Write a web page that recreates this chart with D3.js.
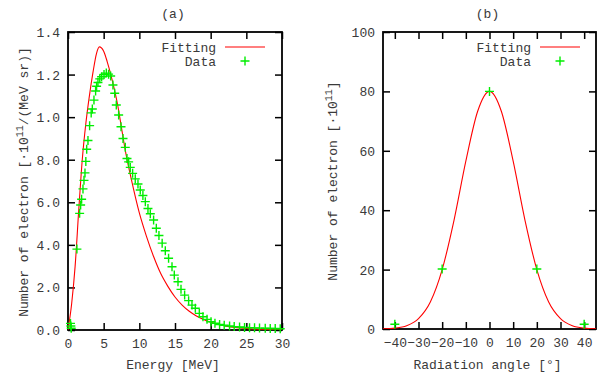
<!DOCTYPE html>
<html>
<head>
<meta charset="utf-8">
<script src="https://cdn.jsdelivr.net/npm/d3@7"></script>
<style>
  body { margin: 0; background: #fff; }
  svg text { font-family: "Liberation Mono", "DejaVu Sans Mono", monospace; font-size: 13px; fill: #3a3a3a; }
</style>
</head>
<body>
<svg id="chart" width="601" height="374"></svg>
<script>
// panel (a): energy spectrum, measured points
const specEnergy = [0.35, 0.4, 0.45, 1.25, 1.63, 1.77, 1.91, 2.1, 2.24, 2.38, 2.5, 2.62, 2.8, 3.03, 3.25, 3.41,
  3.64, 3.87, 4.01, 4.2, 4.45, 4.71, 5.05, 5.37, 5.69, 5.98, 6.3, 6.55, 6.77, 7.1, 7.43, 7.71, 8.03, 8.27,
  8.5, 8.73, 9.06, 9.43, 9.81, 10.13, 10.5, 10.84, 11.21, 11.54, 12.0, 12.38, 12.75, 13.2, 13.64, 14.1,
  14.58, 14.9, 15.42, 15.84, 16.35, 16.91, 17.38, 17.85, 18.41, 18.92, 19.49, 20.05, 20.6, 21.25, 21.9,
  22.65, 23.3, 24.05, 24.75, 25.45, 26.15, 26.85, 27.65, 28.35, 29.05, 29.75];
const specCount = [0.031, 0.019, 0.008, 0.38, 0.548, 0.587, 0.614, 0.663, 0.703, 0.738, 0.792, 0.849, 0.89, 0.96, 1.02, 1.038,
  1.08, 1.123, 1.145, 1.163, 1.18, 1.19, 1.2, 1.207, 1.202, 1.193, 1.151, 1.112, 1.057, 1.01, 0.955, 0.9, 0.858, 0.806,
  0.79, 0.764, 0.736, 0.71, 0.686, 0.658, 0.632, 0.603, 0.571, 0.546, 0.517, 0.478, 0.444, 0.408, 0.372, 0.337,
  0.297, 0.258, 0.227, 0.191, 0.164, 0.138, 0.117, 0.102, 0.078, 0.062, 0.05, 0.039, 0.032, 0.026, 0.022,
  0.019, 0.016, 0.014, 0.012, 0.011, 0.01, 0.009, 0.008, 0.007, 0.007, 0.006];

// panel (a): fitting curve
const fitEnergy = [0, 0.5, 1.0, 1.5, 2.0, 2.5, 3.0, 3.5, 4.0, 4.4, 5.0, 5.5, 6.0, 6.5, 7.0, 7.5, 8.0, 9.0, 10.0,
  11.0, 12.0, 13.0, 14.0, 15.0, 16.0, 17.0, 18.0, 19.0, 20.0, 22.0, 24.0, 26.0, 28.0, 30.0];
const fitCount = [0, 0.12, 0.30, 0.56, 0.80, 0.97, 1.10, 1.21, 1.30, 1.33, 1.31, 1.26, 1.20, 1.13, 1.05, 0.95, 0.85, 0.69, 0.55,
  0.44, 0.345, 0.265, 0.205, 0.155, 0.117, 0.088, 0.066, 0.049, 0.036, 0.019, 0.01, 0.005, 0.0025, 0.001];

const specYTicks = [0, 0.2, 0.4, 0.6, 0.8, 1.0, 1.2, 1.4];
const specYLabels = ['0.0', '2.0', '4.0', '6.0', '8.0', '1.0', '1.2', '1.4'];
const specXTicks = [0, 5, 10, 15, 20, 25, 30];

// panel (b): angular distribution
const angle = [-40, -20, 0, 20, 40];
const angleCount = [1.6, 20.2, 80, 20.2, 1.6];
const fitAngle = [-45, -40, -35, -30, -25, -20, -15, -10, -5, 0, 5, 10, 15, 20, 25, 30, 35, 40, 45];
const fitAngleCount = [0.07, 0.3, 1.1, 3.5, 9.1, 20, 36.6, 56.5, 73.3, 80, 73.3, 56.5, 36.6, 20, 9.1, 3.5, 1.1, 0.3, 0.07];
const angleXTicks = [-40, -30, -20, -10, 0, 10, 20, 30, 40];
const angleYTicks = [0, 20, 40, 60, 80, 100];

const svg = d3.select('#chart');

function drawPanel(cfg) {
  const x = d3.scaleLinear().domain(cfg.xDomain).range([cfg.left, cfg.right]);
  const y = d3.scaleLinear().domain(cfg.yDomain).range([cfg.bottom, cfg.top]);
  const g = svg.append('g');
  const tick = 7;

  g.append('defs').append('clipPath').attr('id', cfg.id + '-clip')
    .append('rect').attr('x', cfg.left).attr('y', cfg.top)
    .attr('width', cfg.right - cfg.left).attr('height', cfg.bottom - cfg.top);

  // inward ticks on all four sides
  const axB = d3.axisBottom(x).tickValues(cfg.xTicks).tickSizeInner(-tick).tickSizeOuter(0).tickFormat(d3.format('d'));
  const axT = d3.axisTop(x).tickValues(cfg.xTicks).tickSizeInner(-tick).tickSizeOuter(0).tickFormat('');
  const axL = d3.axisLeft(y).tickValues(cfg.yTicks).tickSizeInner(-tick).tickSizeOuter(0)
    .tickFormat((d, i) => cfg.yLabels[i]);
  const axR = d3.axisRight(y).tickValues(cfg.yTicks).tickSizeInner(-tick).tickSizeOuter(0).tickFormat('');

  const gb = g.append('g').attr('transform', 'translate(0,' + cfg.bottom + ')').call(axB);
  g.append('g').attr('transform', 'translate(0,' + cfg.top + ')').call(axT);
  const gl = g.append('g').attr('transform', 'translate(' + cfg.left + ',0)').call(axL);
  g.append('g').attr('transform', 'translate(' + cfg.right + ',0)').call(axR);

  g.selectAll('.domain').remove();
  g.selectAll('.tick line').attr('stroke', '#000').attr('stroke-width', 1.5);
  g.selectAll('.tick text').attr('font-size', null).attr('font-family', null).attr('fill', null);
  gb.selectAll('.tick text').attr('y', 9).attr('dy', '0.71em');
  gl.selectAll('.tick text').attr('x', -8).attr('dy', '0.35em');

  g.append('rect')
    .attr('x', cfg.left).attr('y', cfg.top)
    .attr('width', cfg.right - cfg.left).attr('height', cfg.bottom - cfg.top)
    .attr('fill', 'none').attr('stroke', '#000').attr('stroke-width', 1.8);

  // fitting curve
  const line = d3.line().x(d => x(d[0])).y(d => y(d[1])).curve(d3.curveMonotoneX);
  g.append('path')
    .datum(d3.zip(cfg.fitX, cfg.fitY))
    .attr('clip-path', 'url(#' + cfg.id + '-clip)')
    .attr('d', line)
    .attr('fill', 'none').attr('stroke', '#ff0000').attr('stroke-width', 1.1);

  // data crosses
  const s = 4.5;
  const cross = 'M' + (-s) + ',0H' + s + 'M0,' + (-s) + 'V' + s;
  g.append('g').selectAll('path')
    .data(d3.zip(cfg.dataX, cfg.dataY))
    .join('path')
    .attr('transform', d => 'translate(' + x(d[0]) + ',' + y(d[1]) + ')')
    .attr('d', cross)
    .attr('stroke', '#00ee00').attr('stroke-width', 1.4).attr('fill', 'none');

  // title
  g.append('text').attr('x', (cfg.left + cfg.right) / 2 - 2).attr('y', 13).attr('dy', '0.35em')
    .attr('text-anchor', 'middle').text(cfg.title);

  // x label
  g.append('text').attr('x', (cfg.left + cfg.right) / 2 - 2).attr('y', 364).attr('dy', '0.35em')
    .attr('text-anchor', 'middle').text(cfg.xLabel);

  // y label with superscript
  const yl = g.append('text')
    .attr('transform', 'translate(' + cfg.yLabelX + ',' + cfg.yLabelY + ') rotate(-90)')
    .attr('text-anchor', 'middle').attr('dy', '0.35em');
  yl.append('tspan').text('Number of electron [\u00b710');
  yl.append('tspan').attr('dy', -5).style('font-size', '10px').text('11');
  yl.append('tspan').attr('dy', 5).text(cfg.yLabelTail);

  // legend
  const lx = cfg.legendX;
  g.append('text').attr('x', lx).attr('y', 47).attr('dy', '0.35em').attr('text-anchor', 'end').text('Fitting');
  g.append('text').attr('x', lx).attr('y', 61).attr('dy', '0.35em').attr('text-anchor', 'end').text('Data');
  g.append('line').attr('x1', lx + 9).attr('x2', lx + 49).attr('y1', 47).attr('y2', 47)
    .attr('stroke', '#ff0000').attr('stroke-width', 1.1);
  g.append('path').attr('transform', 'translate(' + (lx + 29) + ',61)').attr('d', cross)
    .attr('stroke', '#00ee00').attr('stroke-width', 1.4).attr('fill', 'none');
}

drawPanel({
  id: 'a', title: '(a)', left: 68, right: 282, top: 32, bottom: 330,
  xDomain: [0, 30], yDomain: [0, 1.4],
  xTicks: specXTicks, yTicks: specYTicks, yLabels: specYLabels,
  fitX: fitEnergy, fitY: fitCount, dataX: specEnergy, dataY: specCount,
  xLabel: 'Energy [MeV]', yLabelX: 23, yLabelY: 182, yLabelTail: '/(MeV sr)]',
  legendX: 216
});

drawPanel({
  id: 'b', title: '(b)', left: 383, right: 596, top: 32, bottom: 329,
  xDomain: [-45, 45], yDomain: [0, 100],
  xTicks: angleXTicks, yTicks: angleYTicks, yLabels: angleYTicks.map(String),
  fitX: fitAngle, fitY: fitAngleCount, dataX: angle, dataY: angleCount,
  xLabel: 'Radiation angle [\u00b0]', yLabelX: 332, yLabelY: 181, yLabelTail: ']',
  legendX: 531
});
</script>
</body>
</html>
